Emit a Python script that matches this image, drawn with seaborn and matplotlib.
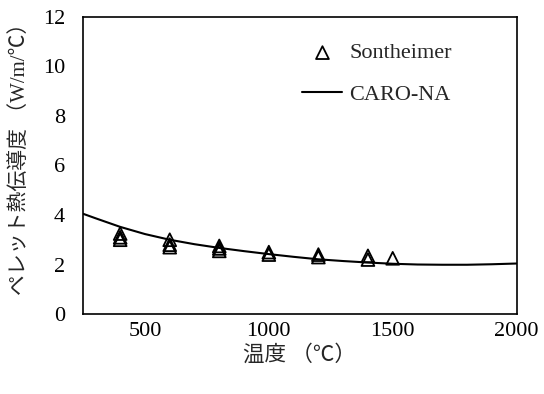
import matplotlib
matplotlib.use("Agg")
import matplotlib.pyplot as plt
import seaborn as sns
import pandas as pd

# Measured data (Sontheimer)
meas_temp = [400, 400, 400, 600, 600, 600, 800, 800, 800, 1000, 1000, 1200, 1200, 1400, 1400, 1500]
meas_k = [3.0, 3.1, 3.25, 2.7, 2.8, 3.0, 2.55, 2.65, 2.75, 2.4, 2.5, 2.3, 2.4, 2.2, 2.35, 2.25]

# Calculated curve (CARO-NA)
calc_temp = [250, 300, 400, 500, 600, 700, 800, 900, 1000, 1100, 1200, 1300, 1400, 1500, 1600, 1700, 1800, 1900, 2000]
calc_k = [4.05, 3.87, 3.52, 3.23, 3.0, 2.82, 2.67, 2.54, 2.42, 2.31, 2.21, 2.14, 2.08, 2.03, 2.0, 1.99, 1.99, 2.01, 2.04]

x_ticks = [500, 1000, 1500, 2000]
x_minor = [750, 1250, 1750]
y_ticks = [0, 2, 4, 6, 8, 10, 12]

sns.set_style("white")
plt.rcParams['font.family'] = ['Liberation Serif', 'Noto Sans CJK JP', 'DejaVu Sans']

fig = plt.figure(figsize=(5.44, 3.94), dpi=100)
ax = fig.add_axes([0.1526, 0.203, 0.797, 0.754])

df_m = pd.DataFrame({"T": meas_temp, "k": meas_k})
df_c = pd.DataFrame({"T": calc_temp, "k": calc_k})

sns.scatterplot(data=df_m, x="T", y="k", ax=ax, marker="^", s=85,
                facecolors="none", edgecolors="black", linewidths=1.3,
                label="Sontheimer", zorder=3)
sns.lineplot(data=df_c, x="T", y="k", ax=ax, color="black", linewidth=1.5,
             label="CARO-NA", zorder=2)

ax.set_xlim(250, 2000)
ax.set_ylim(0, 12)
ax.set_xticks(x_ticks)
ax.set_xticks(x_minor, minor=True)
ax.set_yticks(y_ticks)
ax.tick_params(axis="both", which="both", direction="in", length=5, width=1, colors="black")
ax.tick_params(axis="x", which="major", labelsize=16, pad=6)
ax.tick_params(axis="y", which="major", labelsize=16, pad=13)
for s in ax.spines.values():
    s.set_visible(True)
    s.set_color("black")
    s.set_linewidth(1.2)

ax.set_xlabel("温度 （℃）", fontsize=15.5, labelpad=3)
ax.set_ylabel("ペレット熱伝導度 （W/m/℃）", fontsize=15)
ax.yaxis.set_label_coords(-0.12, 0.54)

leg = ax.legend(loc="upper left", bbox_to_anchor=(0.46, 0.98), frameon=False,
                fontsize=16, handlelength=1.8, labelspacing=0.95, handletextpad=0.3)

fig.savefig("out.png", dpi=100)
